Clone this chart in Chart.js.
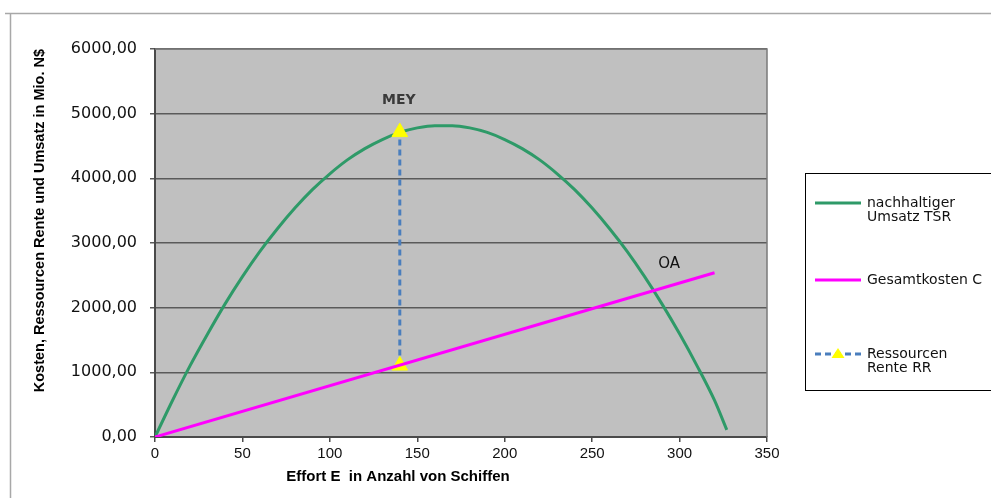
<!DOCTYPE html>
<html>
<head>
<meta charset="utf-8">
<script src="https://cdn.jsdelivr.net/npm/chart.js@4/dist/chart.umd.min.js"></script>
<style>
html, body { margin: 0; padding: 0; background: #fff; }
canvas { display: block; }
</style>
</head>
<body>
<canvas id="chart" width="991" height="498"></canvas>
<script>
// Effort E (ships) and values in Mio. N$
const tsrEffort = [0, 10, 20, 30, 40, 50, 60, 70, 80, 90, 100, 110, 120, 130, 140, 150, 160,
    170, 180, 190, 200, 210, 220, 230, 240, 250, 260, 270, 280, 290, 300, 310, 320, 327];
const tsrValues = [0, 565, 1100, 1590, 2055, 2480, 2870, 3220, 3540, 3825, 4070, 4285, 4460, 4600, 4710, 4780, 4815,
    4815, 4780, 4710, 4600, 4460, 4285, 4070, 3825, 3540, 3220, 2870, 2480, 2055, 1595, 1100, 565, 110];
const costEffort = [0, 320];
const costValues = [0, 2540];
const rrEffort = [140, 140];
const rrValues = [1105, 4715];

const xTicks = [0, 50, 100, 150, 200, 250, 300, 350];
const yTicks = [0, 1000, 2000, 3000, 4000, 5000, 6000];

// Text labels inside the plot, placed at data coordinates
const noteTexts = ['MEY', 'OA'];
const noteEffort = [139.5, 294];
const noteValues = [5210, 2675];

const legendLines = [['nachhaltiger', 'Umsatz TSR'], ['Gesamtkosten C'], ['Ressourcen', 'Rente RR']];

const colors = {
    tsr: '#2e9a68',
    cost: '#ff00ff',
    rr: '#4a7ebd',
    marker: '#ffff00',
    plot: '#c0c0c0',
    grid: '#5a5a5a',
    axis: '#4a4a4a',
    text: '#000000'
};

const toPoints = (xs, ys) => xs.map((x, i) => ({ x: x, y: ys[i] }));

const chartDecor = {
    id: 'chartDecor',
    beforeDraw(chart) {
        const { ctx, chartArea: a } = chart;
        ctx.save();
        // outer frame of the picture
        ctx.strokeStyle = '#a8a8a8';
        ctx.lineWidth = 1.5;
        ctx.beginPath();
        ctx.moveTo(5, 13.5);
        ctx.lineTo(991, 13.5);
        ctx.moveTo(10.5, 13);
        ctx.lineTo(10.5, 498);
        ctx.stroke();
        // plot area
        ctx.fillStyle = colors.plot;
        ctx.fillRect(a.left, a.top, a.right - a.left, a.bottom - a.top);
        ctx.restore();
    },
    beforeDatasetsDraw(chart) {
        const { ctx, chartArea: a } = chart;
        ctx.save();
        ctx.strokeStyle = '#7a7a7a';
        ctx.lineWidth = 1.5;
        ctx.beginPath();
        ctx.moveTo(a.left, a.top);
        ctx.lineTo(a.right, a.top);
        ctx.lineTo(a.right, a.bottom);
        ctx.stroke();
        ctx.restore();
    },
    afterDraw(chart) {
        const { ctx, scales } = chart;
        ctx.save();

        // notes in the plot
        ctx.textAlign = 'center';
        ctx.textBaseline = 'middle';
        noteTexts.forEach((t, i) => {
            const px = scales.x.getPixelForValue(noteEffort[i]);
            const py = scales.y.getPixelForValue(noteValues[i]);
            ctx.font = i === 0 ? 'bold 14px "DejaVu Sans"' : '15px "DejaVu Sans"';
            ctx.fillStyle = i === 0 ? '#3a3a3a' : '#111';
            ctx.fillText(t, px, py);
        });

        // x axis title
        ctx.font = 'bold 15px "Liberation Sans", Arial';
        ctx.fillStyle = colors.text;
        ctx.fillText('Effort E  in Anzahl von Schiffen', 398, 477);

        // legend
        const box = { left: 805.5, top: 173.5, right: 996, bottom: 390.5 };
        ctx.strokeStyle = '#000';
        ctx.lineWidth = 1;
        ctx.strokeRect(box.left, box.top, box.right - box.left, box.bottom - box.top);
        const rowY = [203, 280, 354];
        const ds = chart.data.datasets;
        ctx.textAlign = 'left';
        ctx.font = '14px "DejaVu Sans"';
        rowY.forEach((y, i) => {
            ctx.save();
            ctx.strokeStyle = ds[i].borderColor;
            ctx.lineWidth = 3;
            ctx.setLineDash(ds[i].borderDash || []);
            ctx.beginPath();
            ctx.moveTo(815, y);
            ctx.lineTo(861, y);
            ctx.stroke();
            ctx.restore();
            if (ds[i].pointRadius > 0) {
                ctx.fillStyle = colors.marker;
                ctx.beginPath();
                ctx.moveTo(838, y - 6);
                ctx.lineTo(844.5, y + 4);
                ctx.lineTo(831.5, y + 4);
                ctx.closePath();
                ctx.fill();
            }
            ctx.fillStyle = '#111';
            legendLines[i].forEach((line, j) => {
                ctx.fillText(line, 867, y + j * 14.5);
            });
        });
        ctx.restore();
    }
};

new Chart(document.getElementById('chart').getContext('2d'), {
    type: 'line',
    data: {
        datasets: [
            {
                label: 'nachhaltiger Umsatz TSR',
                data: toPoints(tsrEffort, tsrValues),
                borderColor: colors.tsr,
                borderWidth: 3,
                pointRadius: 0,
                cubicInterpolationMode: 'monotone',
                fill: false,
                order: 2
            },
            {
                label: 'Gesamtkosten C',
                data: toPoints(costEffort, costValues),
                borderColor: colors.cost,
                borderWidth: 3,
                pointRadius: 0,
                fill: false,
                order: 0
            },
            {
                label: 'Ressourcen Rente RR',
                data: toPoints(rrEffort, rrValues),
                borderColor: colors.rr,
                borderWidth: 3,
                borderDash: [6, 4],
                pointStyle: 'triangle',
                pointRadius: 9,
                pointBackgroundColor: colors.marker,
                pointBorderColor: colors.marker,
                pointBorderWidth: 1,
                fill: false,
                order: 1
            }
        ]
    },
    options: {
        responsive: false,
        devicePixelRatio: 1,
        animation: false,
        layout: { padding: { left: 0, top: 49, right: 224, bottom: 0 } },
        plugins: {
            legend: { display: false },
            tooltip: { enabled: false }
        },
        scales: {
            x: {
                type: 'linear',
                min: xTicks[0],
                max: xTicks[xTicks.length - 1],
                afterFit: (scale) => { scale.height = 61; },
                afterBuildTicks: (scale) => { scale.ticks = xTicks.map(v => ({ value: v })); },
                grid: { drawOnChartArea: false, drawTicks: true, tickLength: 5, color: colors.axis, lineWidth: 1.5 },
                border: { color: colors.axis, width: 2 },
                ticks: {
                    color: '#111',
                    padding: 3,
                    maxRotation: 0,
                    font: { family: '"Liberation Sans", Arial', size: 15 }
                }
            },
            y: {
                min: yTicks[0],
                max: yTicks[yTicks.length - 1],
                afterFit: (scale) => { scale.width = 155; },
                afterBuildTicks: (scale) => { scale.ticks = yTicks.map(v => ({ value: v })); },
                grid: { color: colors.grid, lineWidth: 1.5, tickLength: 5 },
                border: { color: colors.axis, width: 2 },
                ticks: {
                    color: '#111',
                    padding: 13,
                    font: { family: '"DejaVu Sans"', size: 16 },
                    callback: (v) => v.toFixed(2).replace('.', ',')
                },
                title: {
                    display: true,
                    text: 'Kosten, Ressourcen Rente und Umsatz in Mio. N$',
                    align: 'end',
                    color: '#000',
                    padding: { top: 31, bottom: 0 },
                    font: { family: '"Liberation Sans", Arial', size: 14.5, weight: 'bold' }
                }
            }
        }
    },
    plugins: [chartDecor]
});
</script>
</body>
</html>
